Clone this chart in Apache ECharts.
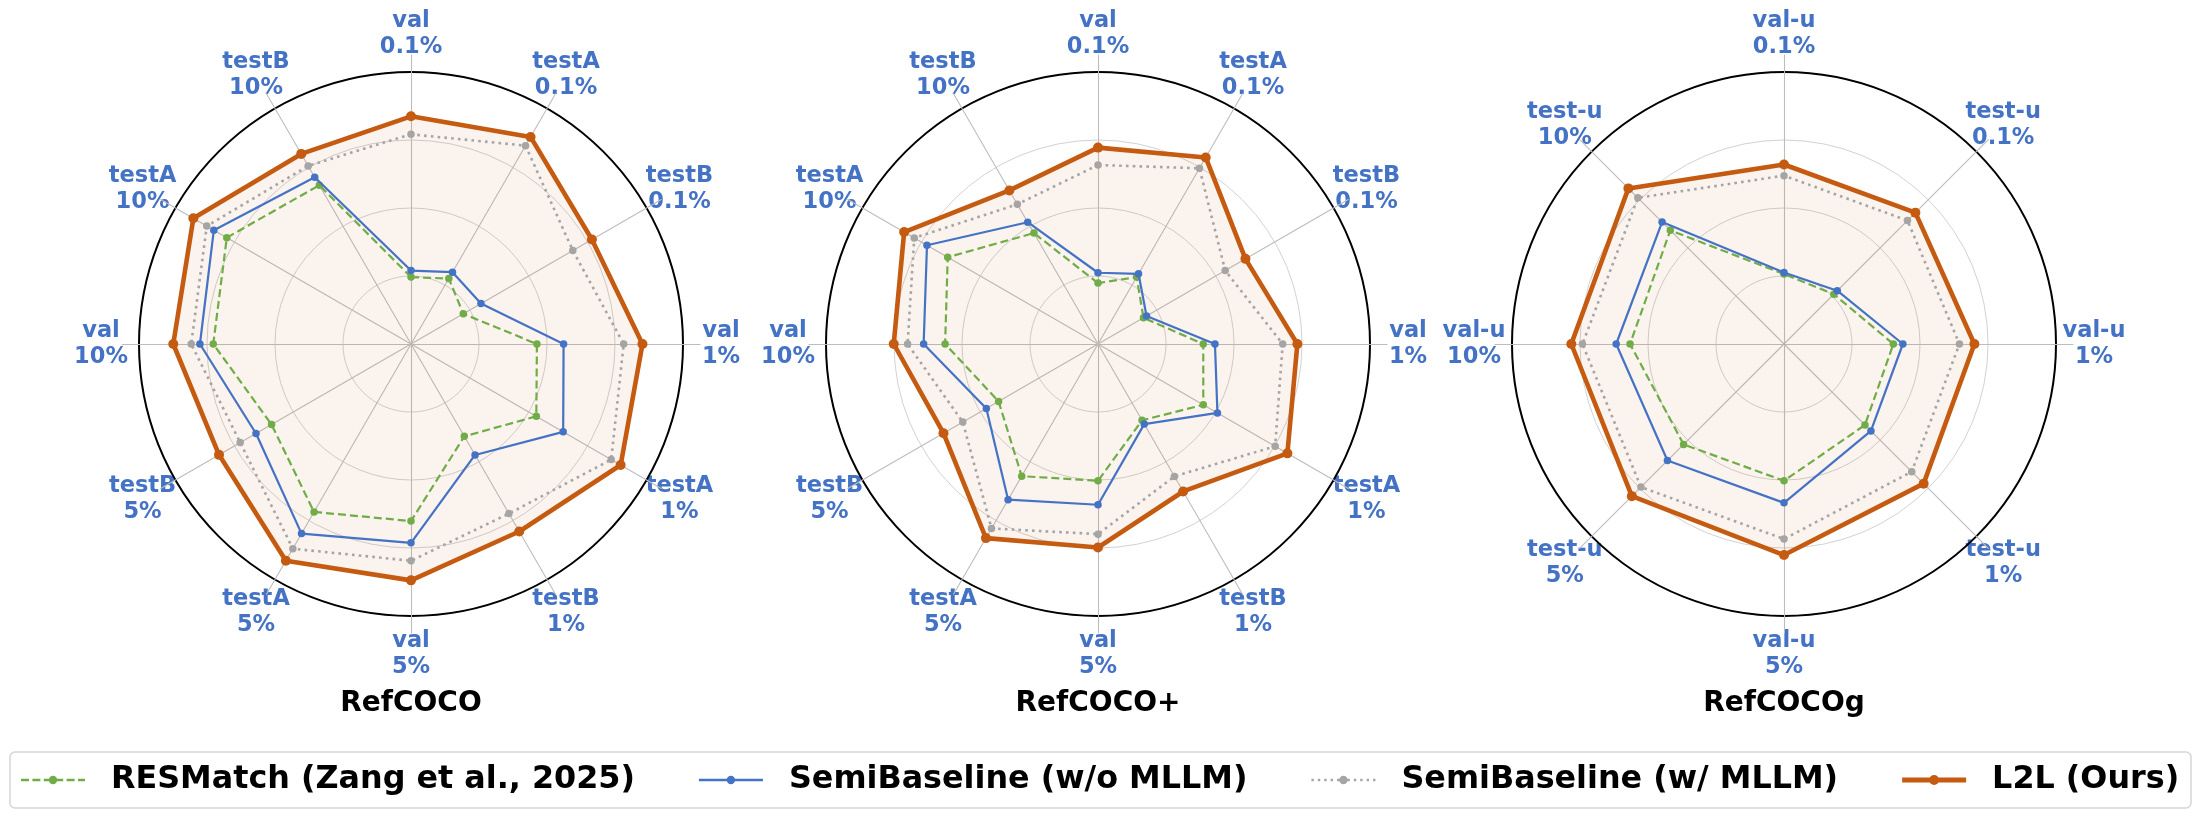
<!DOCTYPE html>
<html><head><meta charset="utf-8">
<script src="https://cdn.jsdelivr.net/npm/echarts@6/dist/echarts.min.js"></script>
<style>html,body{margin:0;padding:0;background:#fff}#c{width:2200px;height:817px}</style>
</head><body><div id="c"></div>
<script>
// ---------------- data ----------------
const seriesNames = ['RESMatch (Zang et al., 2025)', 'SemiBaseline (w/o MLLM)', 'SemiBaseline (w/ MLLM)', 'L2L (Ours)'];
const titles = ['RefCOCO', 'RefCOCO+', 'RefCOCOg'];

const refcocoCats = ['val 0.1%', 'testA 0.1%', 'testB 0.1%', 'val 1%', 'testA 1%', 'testB 1%', 'val 5%', 'testA 5%', 'testB 5%', 'val 10%', 'testA 10%', 'testB 10%'];
const refcocoPlusCats = ['val 0.1%', 'testA 0.1%', 'testB 0.1%', 'val 1%', 'testA 1%', 'testB 1%', 'val 5%', 'testA 5%', 'testB 5%', 'val 10%', 'testA 10%', 'testB 10%'];
const refcocogCats = ['val-u 0.1%', 'test-u 0.1%', 'val-u 1%', 'test-u 1%', 'val-u 5%', 'test-u 5%', 'val-u 10%', 'test-u 10%'];

// normalised radial scores (0-100)
const refcocoRESMatch = [24.6, 27.8, 22.2, 46.3, 53.2, 39.2, 65.1, 71.3, 59.2, 72.7, 78.2, 67.4];
const refcocoSemiWo   = [27.0, 30.5, 29.7, 56.1, 64.6, 47.1, 73.1, 80.5, 65.8, 77.6, 83.7, 70.8];
const refcocoSemiW    = [77.1, 84.2, 68.7, 78.2, 85.0, 72.0, 79.7, 86.9, 72.5, 80.8, 86.7, 75.6];
const refcocoL2L      = [83.7, 87.9, 76.8, 85.1, 89.0, 79.6, 86.9, 92.0, 81.5, 87.4, 92.4, 80.7];

const refcocoPlusRESMatch = [22.4, 28.4, 19.3, 38.7, 44.7, 32.4, 50.3, 56.1, 42.2, 56.2, 63.8, 47.1];
const refcocoPlusSemiWo   = [26.2, 29.8, 20.6, 43.0, 50.7, 34.0, 59.1, 66.1, 47.4, 64.1, 72.6, 51.7];
const refcocoPlusSemiW    = [65.8, 74.6, 54.0, 67.9, 75.2, 56.2, 69.9, 78.3, 57.4, 70.0, 78.0, 59.3];
const refcocoPlusL2L      = [72.2, 79.2, 62.6, 73.3, 80.4, 62.6, 74.8, 82.4, 65.6, 75.1, 82.3, 65.2];

const refcocogRESMatch = [25.7, 25.9, 40.2, 42.1, 50.3, 52.2, 56.6, 59.1];
const refcocogSemiWo   = [26.3, 27.7, 43.7, 45.2, 58.4, 60.6, 61.7, 63.4];
const refcocogSemiW    = [61.9, 64.2, 64.5, 66.4, 71.7, 74.4, 74.1, 76.0];
const refcocogL2L      = [66.0, 68.3, 70.0, 72.6, 77.6, 79.1, 78.2, 80.9];

// ---------------- layout / style ----------------
const FONT = '"DejaVu Sans", sans-serif';
const centersX = [411, 1098, 1784];
const centerY = 344;
const R = 272, spokeR = 289, labelR = 310;
const colors = ['#70ad47', '#4472c4', '#a5a5a5', '#c55a11'];

const panels = [
  {cats: refcocoCats, vals: [refcocoRESMatch, refcocoSemiWo, refcocoSemiW, refcocoL2L]},
  {cats: refcocoPlusCats, vals: [refcocoPlusRESMatch, refcocoPlusSemiWo, refcocoPlusSemiW, refcocoPlusL2L]},
  {cats: refcocogCats, vals: [refcocogRESMatch, refcocogSemiWo, refcocogSemiW, refcocogL2L]}
];

// ECharts radar runs counter-clockwise; reorder so the picture runs clockwise
const cw = a => [a[0], ...a.slice(1).reverse()];

const radars = [], series = [], graphics = [];
panels.forEach((p, k) => {
  const ind = p.cats.map(() => ({name: '', min: 0, max: 100}));
  const base = {center: [centersX[k], centerY], shape: 'circle', startAngle: 90,
    indicator: ind, axisName: {show: false}, splitArea: {show: false}};
  // spokes
  radars.push(Object.assign({}, base, {radius: spokeR, splitNumber: 4,
    axisLine: {show: true, lineStyle: {color: '#bdbdbd', width: 1.1}},
    splitLine: {show: false}}));
  // data radar with grid rings
  radars.push(Object.assign({}, base, {radius: R, splitNumber: 4,
    axisLine: {show: false},
    splitLine: {show: true, lineStyle: {color: '#d2d2d2', width: 1}}}));
  // outer black ring
  radars.push(Object.assign({}, base, {radius: R, splitNumber: 1,
    axisLine: {show: false},
    splitLine: {show: true, lineStyle: {color: '#000', width: 2}}}));
  const ri = 3 * k + 1;
  // fill of L2L under everything
  series.push({type: 'radar', radarIndex: ri, name: 'L2L fill', symbol: 'none', silent: true, z: 1,
    lineStyle: {width: 0, opacity: 0},
    areaStyle: {color: 'rgba(197,90,17,0.10)'},
    data: [{name: 'L2L fill', value: cw(p.vals[3])}]});
  const styles = [
    {lineStyle: {color: colors[0], width: 2.2, type: [8, 4]}, symbolSize: 7.5},
    {lineStyle: {color: colors[1], width: 2.2, type: 'solid'}, symbolSize: 7.5},
    {lineStyle: {color: colors[2], width: 2.6, type: [2.6, 4.2]}, symbolSize: 7.5},
    {lineStyle: {color: colors[3], width: 4.6, type: 'solid'}, symbolSize: 10}
  ];
  seriesNames.forEach((n, s) => {
    series.push({type: 'radar', radarIndex: ri, name: n, symbol: 'circle', z: 2 + s,
      symbolSize: styles[s].symbolSize, lineStyle: styles[s].lineStyle,
      itemStyle: {color: colors[s], borderWidth: 0},
      data: [{name: n, value: cw(p.vals[s])}]});
  });
  // axis labels, clockwise from the top
  p.cats.forEach((c, i) => {
    const th = i * 2 * Math.PI / p.cats.length;
    graphics.push({type: 'text', silent: true,
      x: centersX[k] + labelR * Math.sin(th), y: centerY - labelR * Math.cos(th),
      style: {text: c.replace(' ', '\n'), align: 'center', verticalAlign: 'middle',
        textAlign: 'center', textVerticalAlign: 'middle',
        font: 'bold 22.5px ' + FONT, fill: '#4472c4', lineHeight: 26}});
  });
});

// legend frame
graphics.push({type: 'rect', z: 0, silent: true,
  shape: {x: 10, y: 752, width: 2181, height: 56, r: 5},
  style: {fill: '#fff', stroke: '#d6d6d6', lineWidth: 1.5}});

// legend handles drawn in a 64 x 10 box
const corners = 'M0,0h0.01v0.01h-0.01Z M63.99,9.99h0.01v0.01h-0.01Z ';
const circ = r => `M${32 - r},5A${r},${r} 0 1,1 ${32 + r},5A${r},${r} 0 1,1 ${32 - r},5Z`;
const seg = (x0, x1, t) => `M${x0},${5 - t / 2}H${x1}V${5 + t / 2}H${x0}Z`;
const icons = [
  'path://' + corners + [[0, 8], [11.4, 19.4], [22.8, 30.8], [34.2, 42.2], [45.6, 53.6], [57, 64]].map(d => seg(d[0], d[1], 2.7)).join(' ') + ' ' + circ(4.2),
  'path://' + corners + seg(0, 64, 2.7) + ' ' + circ(4.2),
  'path://' + corners + [0, 6.4, 12.8, 19.2, 25.6, 36, 42.4, 48.8, 55.2, 61.6].map(x => seg(x, x + 2.4, 2.4)).join(' ') + ' ' + circ(4.2),
  'path://' + seg(0, 64, 4.8) + ' ' + circ(5)
];

const option = {
  backgroundColor: '#fff',
  animation: false,
  title: titles.map((t, k) => ({text: t, left: centersX[k], top: 690, textAlign: 'center', padding: 0,
    textStyle: {fontFamily: FONT, fontWeight: 'bold', fontSize: 28, color: '#000'}})),
  legend: {
    left: 16, top: 757, itemWidth: 64, itemHeight: 10, itemGap: 64, selectedMode: false, z: 10,
    textStyle: {fontFamily: FONT, fontWeight: 'bold', fontSize: 31.8, color: '#000', padding: [0, 0, 0, 21], lineHeight: 36},
    data: seriesNames.map((n, i) => ({name: n, icon: icons[i], itemStyle: {color: colors[i], borderWidth: 0, opacity: 1}}))
  },
  radar: radars,
  series: series,
  graphic: graphics
};
const chart = echarts.init(document.getElementById('c'), null, {renderer: 'canvas'});
chart.setOption(option);
</script></body></html>
